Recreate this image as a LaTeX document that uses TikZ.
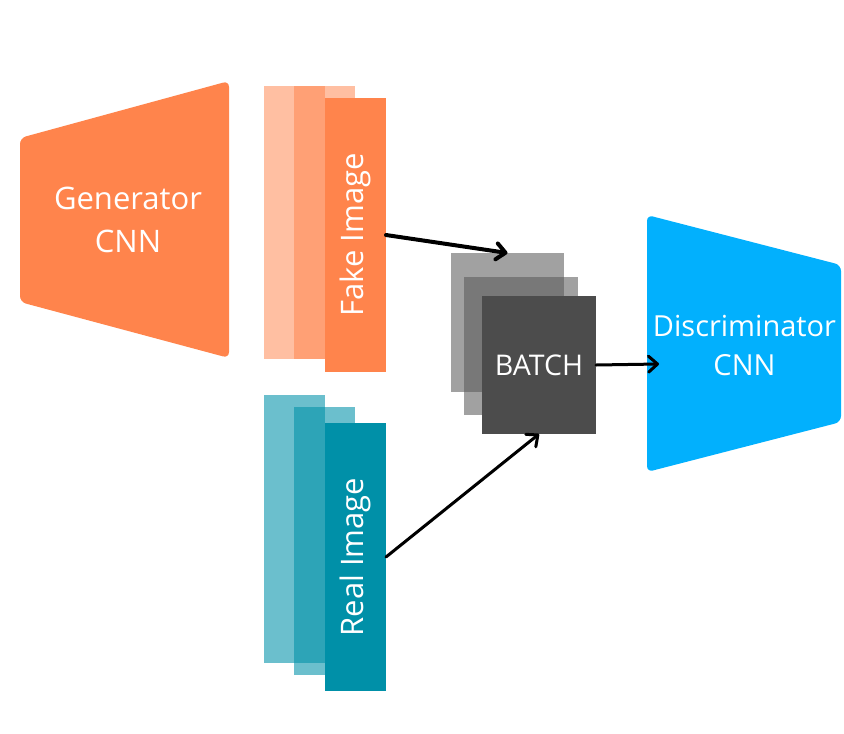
\documentclass[tikz,border=0pt]{standalone}
\usepackage{fontspec}
\setmainfont{Open Sans}
\usetikzlibrary{arrows.meta}
\definecolor{orangemain}{HTML}{FF844C}
\definecolor{tealmain}{HTML}{0090A8}
\definecolor{graymain}{HTML}{4C4C4C}
\definecolor{graylayer}{HTML}{595959}
\definecolor{discblue}{HTML}{02B0FD}
\begin{document}
\begin{tikzpicture}[x=1pt,y=-1pt,
  box/.style={inner sep=0pt, outer sep=0pt, draw=none},
  lbl/.style={text=white, inner sep=0pt, align=center},
  bigfont/.style={font={\fontsize{31}{43}\selectfont}},
  midfont/.style={font={\fontsize{29}{39}\selectfont}},
  conn/.style={line width=3pt, line cap=round,
    -{Straight Barb[length=9pt,width=16pt,line cap=round,line join=round]}}]
\useasboundingbox (0,0) rectangle (844,734);
% Generator
\fill[orangemain, rounded corners=6pt] (20,138) -- (229,81) -- (229,358) -- (20,302) -- cycle;
\node[lbl, bigfont] (gentext) at (128,220) {Generator\\CNN};
% Fake image stack
\node[box, fill=orangemain, fill opacity=0.52, minimum width=61pt, minimum height=273pt] (fakeA) at (294.5,222.5) {};
\node[box, fill=orangemain, fill opacity=0.52, minimum width=61pt, minimum height=273pt] (fakeB) at (324.5,222.5) {};
\node[box, fill=orangemain, minimum width=61pt, minimum height=274pt] (fakeC) at (355.5,235) {};
\node[lbl, bigfont, rotate=90] (faketext) at (fakeC) {Fake Image};
% Real image stack
\node[box, fill=tealmain, fill opacity=0.58, minimum width=61pt, minimum height=268pt] (realA) at (294.5,529) {};
\node[box, fill=tealmain, fill opacity=0.58, minimum width=61pt, minimum height=268pt] (realB) at (324.5,541) {};
\node[box, fill=tealmain, minimum width=61pt, minimum height=268pt] (realC) at (355.5,557) {};
\node[lbl, bigfont, rotate=90] (realtext) at (realC) {Real Image};
% Batch stack
\node[box, fill=graylayer, fill opacity=0.57, minimum width=113pt, minimum height=139pt] (batchA) at (507.5,322.5) {};
\node[box, fill=graylayer, fill opacity=0.57, minimum width=114pt, minimum height=138pt] (batchB) at (521,346) {};
\node[box, fill=graymain, minimum width=114pt, minimum height=138pt] (batchC) at (539,365) {};
\node[lbl, font={\fontsize{28.5}{38}\selectfont}] (batchtext) at (batchC) {BATCH};
% Discriminator
\fill[discblue, rounded corners=6pt] (647,215) -- (841,265) -- (841,422) -- (647,472) -- cycle;
\node[lbl, midfont] (disctext) at (744.5,345) {Discriminator\\CNN};
\coordinate (discin) at (659,364);
% Connectors
\draw[conn, line width=4pt] (fakeC.east) -- (batchA.north);
\draw[conn] (realC.east) -- (batchC.south);
\draw[conn] (batchC.east) -- (discin);
\end{tikzpicture}
\end{document}
